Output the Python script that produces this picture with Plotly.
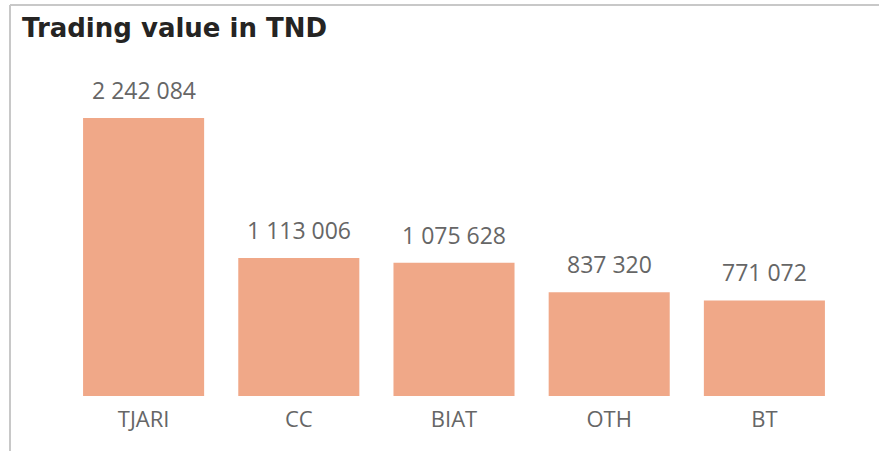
import plotly.graph_objects as go

categories = ["TJARI", "CC", "BIAT", "OTH", "BT"]
values = [2242084, 1113006, 1075628, 837320, 771072]

bar_color = "#F0A888"
text_color = "#666666"

fig = go.Figure(go.Bar(
    x=categories, y=values, marker=dict(color=bar_color, line=dict(width=0)),
    hoverinfo="x+y",
))

for c, v in zip(categories, values):
    fig.add_annotation(x=c, y=v, text=f"{v:,}".replace(",", " "), showarrow=False,
                       yanchor="bottom", yshift=10,
                       font=dict(family="Open Sans, Noto Sans, sans-serif", size=23, color=text_color))

W, H = 879, 451
ml, mr, mt, mb = 66, 37, 76, 55
plot_h = H - mt - mb
ymax = max(values) * plot_h / 278

fig.update_layout(
    width=W, height=H,
    margin=dict(l=ml, r=mr, t=mt, b=mb),
    paper_bgcolor="white", plot_bgcolor="white",
    bargap=0.22,
    showlegend=False,
    title=dict(text="Trading value in TND", x=22 / W, xanchor="left", y=1 - 28 / H, yanchor="middle",
               font=dict(family="DejaVu Sans, sans-serif", size=26, weight=600, color="#252423")),
    xaxis=dict(showgrid=False, showline=False, zeroline=False, ticks="outside", ticklen=4,
               tickcolor="rgba(0,0,0,0)",
               tickfont=dict(family="Open Sans, Noto Sans, sans-serif", size=22, color=text_color)),
    yaxis=dict(visible=False, range=[0, ymax], fixedrange=True),
)

# panel border (top and left edges)
pl = -(ml - 10) / (W - ml - mr)
pt = 1 + (mt - 5) / plot_h
pb = -(mb) / plot_h - 0.01
fig.add_shape(type="line", xref="paper", yref="paper", x0=pl, x1=1 + mr / (W - ml - mr) + 0.01,
              y0=pt, y1=pt, line=dict(color="#C8C8C8", width=2))
fig.add_shape(type="line", xref="paper", yref="paper", x0=pl, x1=pl,
              y0=pt, y1=pb, line=dict(color="#C8C8C8", width=2))

fig.write_html("out.html", config={"displayModeBar": False},
               post_script="document.body.style.margin='0';")
